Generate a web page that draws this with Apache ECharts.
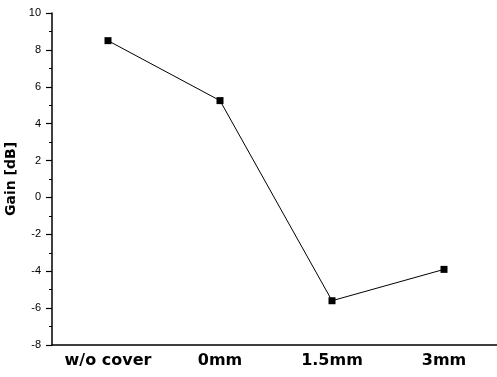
<!DOCTYPE html>
<html><head><meta charset="utf-8">
<script src="https://cdn.jsdelivr.net/npm/echarts@6/dist/echarts.min.js"></script>
<style>html,body{margin:0;padding:0;background:#fff}#c{width:497px;height:377px}</style>
</head><body><div id="c"></div>
<script>
var categories = ['w/o cover', '0mm', '1.5mm', '3mm'];
var gainValues = [8.5, 5.25, -5.6, -3.9];
var yTicks = {min: -8, max: 10, interval: 2};

var chart = echarts.init(document.getElementById('c'), null, {renderer: 'canvas'});
chart.setOption({
  animation: false,
  backgroundColor: '#fff',
  grid: {left: 52, top: 13, right: -3, bottom: 32, containLabel: false, outerBoundsMode: 'none'},
  xAxis: [{
    type: 'category', data: categories, boundaryGap: true,
    axisLine: {onZero: false, lineStyle: {color: '#000', width: 1.5}},
    axisTick: {alignWithLabel: true, interval: 0, length: 6, lineStyle: {color: '#000', width: 1.2}},
    axisLabel: {interval: 0, hideOverlap: false, color: '#000', fontFamily: 'DejaVu Sans', fontWeight: 'bold', fontSize: 16, margin: 8}
  }, {
    type: 'category', data: categories, boundaryGap: true, position: 'bottom',
    axisLine: {show: false, onZero: false},
    axisTick: {interval: 0, length: 3, lineStyle: {color: '#000', width: 1}},
    axisLabel: {show: false}
  }],
  yAxis: {
    type: 'value', min: yTicks.min, max: yTicks.max, interval: yTicks.interval,
    name: 'Gain [dB]', nameLocation: 'middle', nameGap: 33,
    nameTextStyle: {color: '#000', fontFamily: 'DejaVu Sans', fontWeight: 'bold', fontSize: 14},
    axisLine: {show: true, onZero: false, lineStyle: {color: '#000', width: 1.5}},
    axisTick: {show: true, length: 6, lineStyle: {color: '#000', width: 1.2}},
    minorTick: {show: true, splitNumber: 2, length: 3, lineStyle: {color: '#000', width: 1}},
    splitLine: {show: false},
    axisLabel: {color: '#000', fontFamily: 'Liberation Sans', fontSize: 11, margin: 11}
  },
  series: [{
    type: 'line', data: gainValues, xAxisIndex: 0,
    symbol: 'rect', symbolSize: 7,
    itemStyle: {color: '#000'},
    lineStyle: {color: '#000', width: 1}
  }]
});
</script></body></html>
